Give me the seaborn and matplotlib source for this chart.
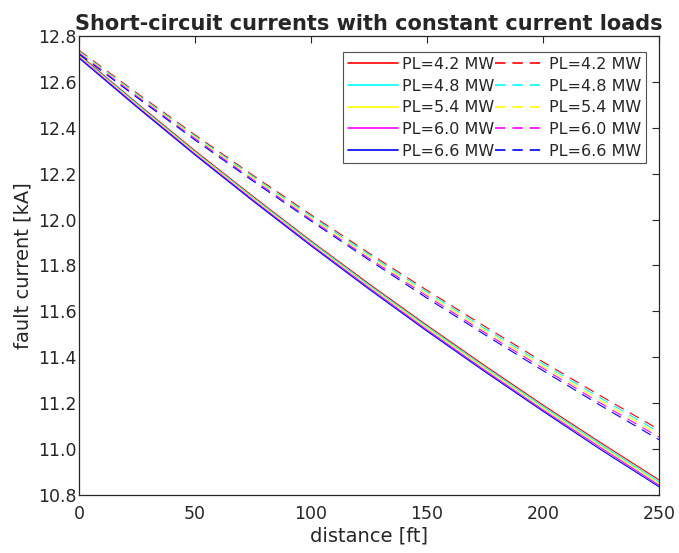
import numpy as np
import pandas as pd
import matplotlib
matplotlib.use("Agg")
import matplotlib.pyplot as plt
import seaborn as sns

# distance along the feeder [ft]
distance = [0, 25, 50, 75, 100, 125, 150, 175, 200, 225, 250]

load_labels = ['PL=4.2 MW', 'PL=4.8 MW', 'PL=5.4 MW', 'PL=6.0 MW', 'PL=6.6 MW']
line_colors = ['#ff0000', '#00ffff', '#ffff00', '#ff00ff', '#0000ff']

# solid curves (fault current, kA)
solid_42 = [12.720, 12.507, 12.300, 12.101, 11.907, 11.720, 11.539, 11.363, 11.192, 11.027, 10.866]
solid_48 = [12.716, 12.503, 12.295, 12.096, 11.902, 11.714, 11.533, 11.356, 11.185, 11.019, 10.858]
solid_54 = [12.712, 12.498, 12.291, 12.091, 11.896, 11.708, 11.527, 11.350, 11.178, 11.012, 10.851]
solid_60 = [12.708, 12.494, 12.286, 12.086, 11.891, 11.703, 11.520, 11.343, 11.171, 11.005, 10.843]
solid_66 = [12.704, 12.490, 12.282, 12.081, 11.886, 11.697, 11.514, 11.337, 11.165, 10.997, 10.836]

# dashed curves (fault current, kA)
dashed_42 = [12.738, 12.551, 12.369, 12.193, 12.021, 11.854, 11.692, 11.534, 11.380, 11.231, 11.085]
dashed_48 = [12.734, 12.546, 12.364, 12.187, 12.014, 11.847, 11.684, 11.525, 11.371, 11.221, 11.074]
dashed_54 = [12.730, 12.541, 12.359, 12.181, 12.007, 11.839, 11.675, 11.516, 11.361, 11.210, 11.063]
dashed_60 = [12.726, 12.537, 12.353, 12.174, 12.000, 11.831, 11.667, 11.507, 11.352, 11.199, 11.052]
dashed_66 = [12.722, 12.532, 12.347, 12.168, 11.994, 11.824, 11.658, 11.498, 11.342, 11.189, 11.041]

solid_all = [solid_42, solid_48, solid_54, solid_60, solid_66]
dashed_all = [dashed_42, dashed_48, dashed_54, dashed_60, dashed_66]

sns.set_style('white')
plt.rcParams['font.family'] = ['DejaVu Sans']
plt.rcParams['lines.scale_dashes'] = False

fig = plt.figure(figsize=(6.79, 5.53), dpi=100)
ax = fig.add_axes([0.1163, 0.1049, 0.8542, 0.8300])

for vals, c, lab in zip(solid_all, line_colors, load_labels):
    sns.lineplot(x=distance, y=vals, color=c, linewidth=0.8, label=lab, ax=ax)
for vals, c, lab in zip(dashed_all, line_colors, load_labels):
    sns.lineplot(x=distance, y=vals, color=c, linewidth=0.8, dashes=False,
                 linestyle=(0, (7.5, 5)), label=lab, ax=ax)

ax.set_xlim(0, 250)
ax.set_ylim(10.8, 12.8)
ax.set_xticks([0, 50, 100, 150, 200, 250])
ax.set_yticks(np.arange(10.8, 12.81, 0.2))
ax.set_yticklabels(['%.1f' % v for v in np.arange(10.8, 12.81, 0.2)])
ax.tick_params(direction='in', length=5, width=0.8, top=True, right=True,
               labelsize=12.5, colors='#262626')
ax.tick_params(axis='x', pad=7.5)
ax.tick_params(axis='y', pad=1.5)
for s in ax.spines.values():
    s.set_color('#262626')
    s.set_linewidth(0.9)

ax.set_xlabel('distance [ft]', fontsize=14, color='#262626', labelpad=2)
ax.set_ylabel('fault current [kA]', fontsize=14, color='#262626', labelpad=4)
ax.set_title('Short-circuit currents with constant current loads',
             fontsize=15, fontweight='bold', pad=4)

leg = ax.legend(ncol=2, loc='upper right', bbox_to_anchor=(0.9776, 0.965),
                fontsize=11.5, handlelength=3.15, handletextpad=0.25,
                columnspacing=0.0, borderpad=0.3, labelspacing=0.42,
                frameon=True, fancybox=False, borderaxespad=0)
leg.get_frame().set_edgecolor('#262626')
leg.get_frame().set_linewidth(0.8)
for h in leg.get_lines():
    h.set_linewidth(1.2)

fig.savefig('out.png', dpi=100)
